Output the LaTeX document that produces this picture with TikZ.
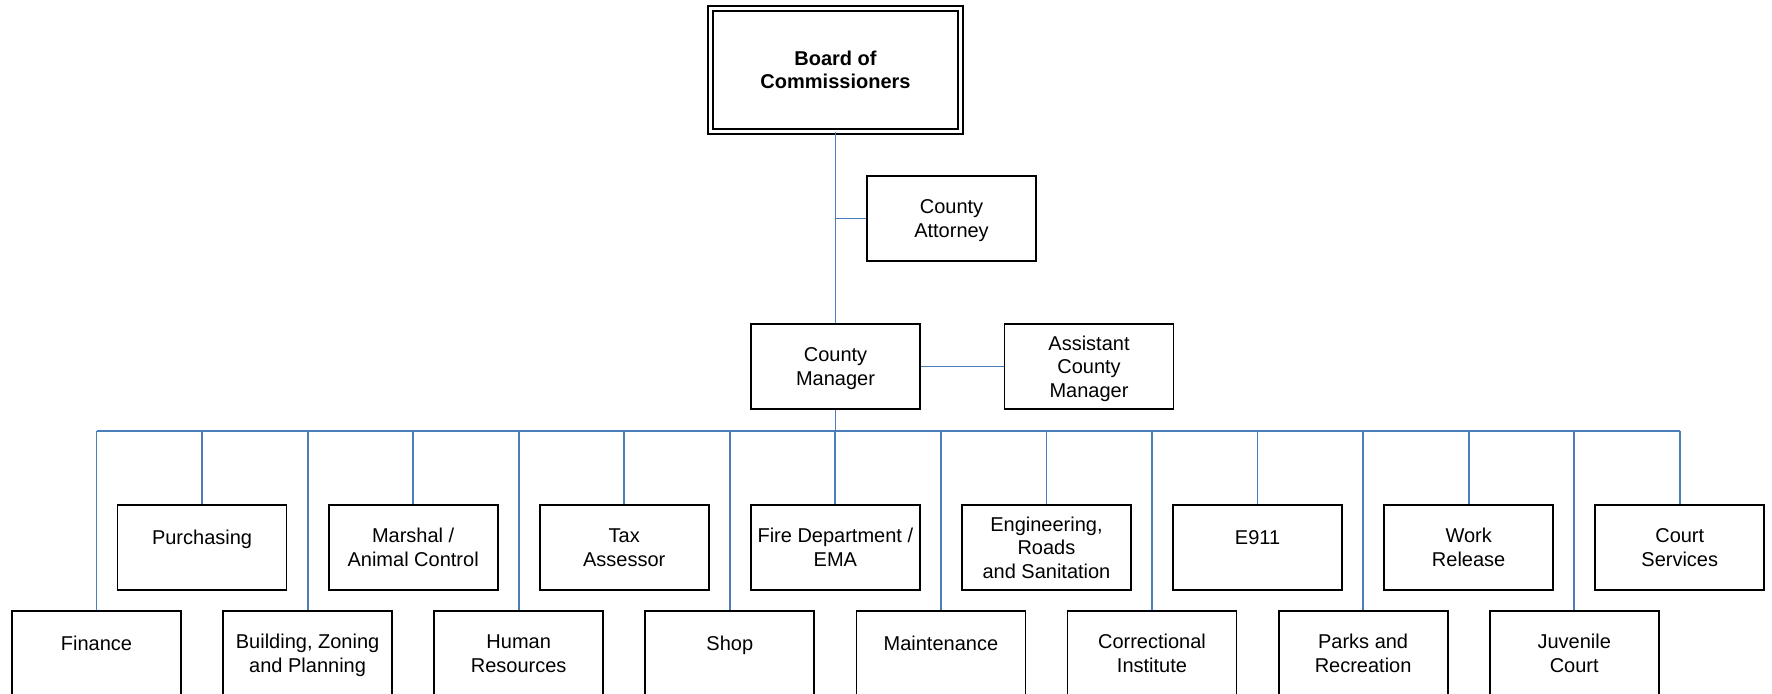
\documentclass[tikz,border=0pt]{standalone}
\usepackage{fontspec}
\setmainfont{Liberation Sans}
\definecolor{linkblue}{HTML}{4A7EBB}
\newcommand\tA{\rule{0pt}{9.7pt}}
\newcommand\tB{\rule{0pt}{11.4pt}}
\newcommand\tZ{\rule[-2.5pt]{0pt}{2.5pt}}
\begin{document}
\begin{tikzpicture}[x=0.5pt,y=-0.5pt,
  box/.style={draw=black, line width=0.9pt, minimum width=84.5pt, minimum height=42.5pt,
    inner sep=0pt, align=center, font=\fontsize{10}{11.75}\selectfont},
  topbox/.style={draw=black, double, double distance=1.6pt, line width=0.8pt,
    minimum width=125pt, minimum height=61.5pt, inner sep=0pt, align=center,
    font=\fontsize{10}{11.75}\selectfont\bfseries},
  link/.style={draw=linkblue, line width=0.9pt}]
\useasboundingbox (0,0) rectangle (1772,694);

\node[topbox] (boc) at (835.5,70) {\tA Board of\\Commissioners\tZ};
\node[box] (ca) at (951.5,218.5) {\tA County\\Attorney\tZ};
\node[box] (cm) at (835.5,366.5) {\tA County\\Manager\tZ};
\node[box] (acm) at (1089,366.5) {\tA Assistant\\County\\Manager\tZ};

% departments
\node[box] (d0)  at (96.5,653.5)   {\tB Finance\\\tZ};
\node[box] (d1)  at (202.05,547.5) {\tB Purchasing\\\tZ};
\node[box] (d2)  at (307.6,653.5)  {\tA Building, Zoning\\and Planning\tZ};
\node[box] (d3)  at (413.15,547.5) {\tA Marshal /\\Animal Control\tZ};
\node[box] (d4)  at (518.7,653.5)  {\tA Human\\Resources\tZ};
\node[box] (d5)  at (624.25,547.5) {\tA Tax\\Assessor\tZ};
\node[box] (d6)  at (729.8,653.5)  {\tB Shop\\\tZ};
\node[box] (d7)  at (835.35,547.5) {\tA Fire Department /\\EMA\tZ};
\node[box] (d8)  at (940.9,653.5)  {\tB Maintenance\\\tZ};
\node[box] (d9)  at (1046.45,547.5) {\tA Engineering,\\Roads\\and Sanitation\tZ};
\node[box] (d10) at (1152,653.5)   {\tA Correctional\\Institute\tZ};
\node[box] (d11) at (1257.55,547.5) {\tB E911\\\tZ};
\node[box] (d12) at (1363.1,653.5) {\tA Parks and\\Recreation\tZ};
\node[box] (d13) at (1468.65,547.5) {\tA Work\\Release\tZ};
\node[box] (d14) at (1574.2,653.5) {\tA Juvenile\\Court\tZ};
\node[box] (d15) at (1679.75,547.5) {\tA Court\\Services\tZ};

% bus coordinates
\foreach \i in {0,...,15} {
  \coordinate (b\i) at (d\i.north |- 0,431);
}
\coordinate (bm) at (cm.south |- 0,431);

% connectors
\draw[link] (boc.south) -- (cm.north);
\draw[link] (ca.west) -- (ca.west -| boc.south);
\draw[link] (cm.east) -- (acm.west);
\draw[link] (cm.south) -- (bm);
\draw[link] (b0) -- (b15);
\foreach \i in {0,...,15} {
  \draw[link] (b\i) -- (d\i.north);
}
\end{tikzpicture}
\end{document}
